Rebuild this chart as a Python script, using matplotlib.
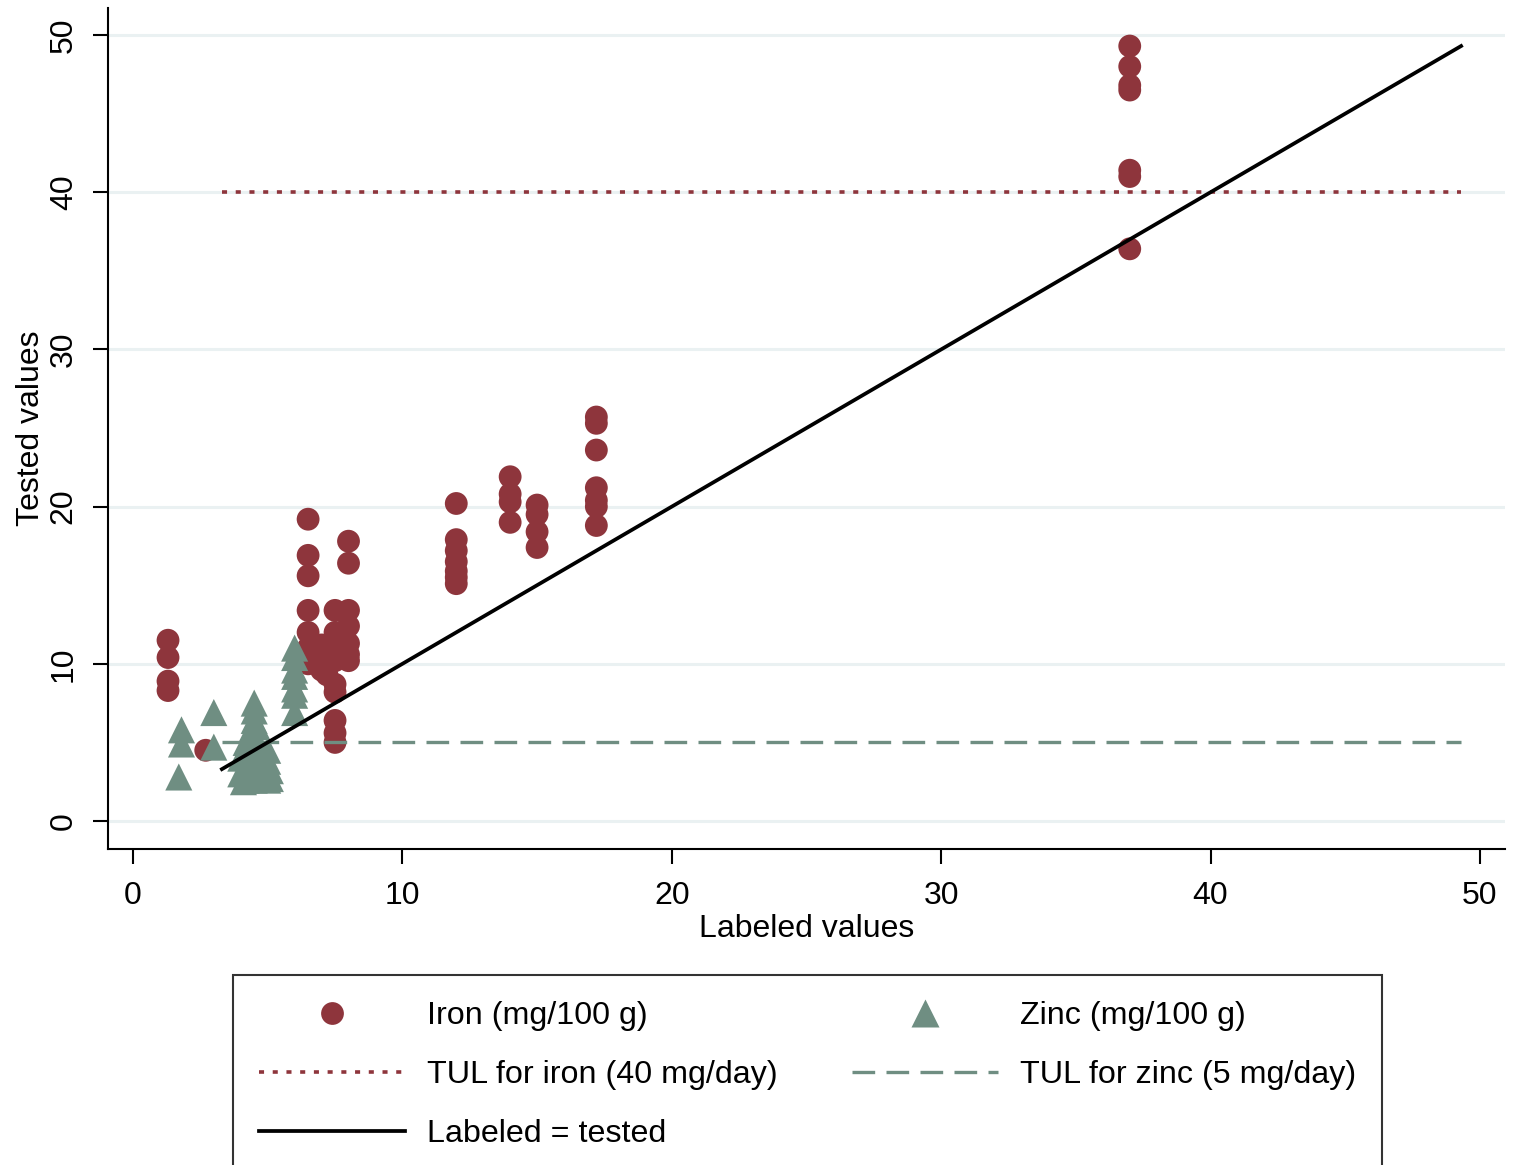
import matplotlib
matplotlib.use("Agg")
import matplotlib.pyplot as plt
from matplotlib.lines import Line2D

plt.rcParams['font.family'] = ['Liberation Sans', 'DejaVu Sans']

# iron: labeled vs tested (mg/100 g)
iron_labeled = [1.3, 1.3, 1.3, 1.3, 2.7,
                6.5, 6.5, 6.5, 6.5, 6.5, 6.5, 6.5,
                7.0, 7.0, 7.0, 7.2, 7.2,
                7.5, 7.5, 7.5, 7.5, 7.5, 7.5, 7.5, 7.5, 7.5,
                8.0, 8.0, 8.0, 8.0, 8.0, 8.0, 8.0,
                12, 12, 12, 12, 12, 12, 12,
                14, 14, 14, 14,
                15, 15, 15, 15,
                17.2, 17.2, 17.2, 17.2, 17.2, 17.2, 17.2,
                37, 37, 37, 37, 37, 37, 37]
iron_tested = [11.5, 10.4, 8.9, 8.3, 4.5,
               19.2, 16.9, 15.6, 13.4, 12.0, 11.0, 10.0,
               11.2, 10.4, 9.6, 9.3, 10.8,
               13.4, 12.0, 11.0, 10.2, 8.7, 8.2, 6.4, 5.6, 5.0,
               17.8, 16.4, 13.4, 12.4, 11.3, 10.6, 10.2,
               20.2, 17.9, 17.2, 16.5, 15.9, 15.5, 15.1,
               21.9, 20.8, 20.3, 19.0,
               20.1, 19.5, 18.4, 17.4,
               25.7, 25.3, 23.6, 21.2, 20.4, 20.0, 18.8,
               49.3, 48.0, 46.8, 46.5, 41.4, 41.0, 36.4]

# zinc: labeled vs tested (mg/100 g)
zinc_labeled = [1.8, 1.8, 1.7, 3.0, 3.0,
                4.0, 4.0, 4.1, 4.2, 4.2, 4.2,
                4.5, 4.5, 4.5, 4.4, 4.5, 4.4, 4.5, 4.5, 4.5, 4.6,
                4.8, 4.8, 5.0, 5.0, 5.1, 5.1, 5.0,
                6.0, 6.0, 6.0, 6.0, 6.0, 6.0, 6.0]
zinc_tested = [5.8, 4.9, 2.8, 6.9, 4.7,
               4.0, 3.0, 2.5, 5.0, 3.5, 2.6,
               7.5, 7.0, 6.4, 5.8, 5.2, 4.5, 3.8, 3.2, 2.6, 6.0,
               4.0, 3.0, 4.5, 3.8, 3.2, 2.7, 2.6,
               11.0, 10.4, 9.6, 9.2, 8.4, 8.0, 6.9]

tul_iron = 40
tul_zinc = 5
line_range = [3.3, 49.3]

iron_col = '#8e353c'
zinc_col = '#6f8e82'

fig = plt.figure(figsize=(15.14, 11.65), dpi=100)
ax = fig.add_axes([108 / 1514, 1 - 849 / 1165, (1505 - 108) / 1514, (849 - 8) / 1165])

ax.scatter(iron_labeled, iron_tested, s=270, marker='o', color=iron_col,
           edgecolors='none', zorder=3)
ax.scatter(zinc_labeled, zinc_tested, s=380, marker='^', color=zinc_col,
           edgecolors='none', zorder=3)
ax.plot(line_range, [tul_iron, tul_iron], color=iron_col, lw=2.6,
        dashes=(1.4, 2.4), zorder=4)
ax.plot(line_range, [tul_zinc, tul_zinc], color=zinc_col, lw=2.4,
        dashes=(6.8, 3.4), zorder=4)
ax.plot(line_range, line_range, color='black', lw=2.7, zorder=5)

ax.set_xlim(-0.928, 50.93)
ax.set_ylim(-1.78, 51.72)
ax.set_xticks(range(0, 51, 10))
ax.set_yticks(range(0, 51, 10))
for lab in ax.get_yticklabels():
    lab.set_rotation(90)
    lab.set_va('center')
ax.tick_params(labelsize=23, length=11, width=1.5, direction='out', pad=12)
ax.tick_params(axis='y', pad=10)
ax.yaxis.grid(True, color='#eaf1f2', lw=2.2)
ax.set_axisbelow(True)
for s in ['top', 'right']:
    ax.spines[s].set_visible(False)
for s in ['left', 'bottom']:
    ax.spines[s].set_linewidth(1.5)

ax.set_xlabel('Labeled values', fontsize=23, labelpad=2)
ax.set_ylabel('Tested values', fontsize=23, labelpad=2)

handles = [
    Line2D([], [], ls='none', marker='o', ms=16.4, color=iron_col, mec='none'),
    Line2D([], [], color=iron_col, lw=2.6, dashes=(1.4, 2.4)),
    Line2D([], [], color='black', lw=2.7),
    Line2D([], [], ls='none', marker='^', ms=19.5, color=zinc_col, mec='none'),
    Line2D([], [], color=zinc_col, lw=2.4, dashes=(6.8, 3.4)),
]
labels = ['Iron (mg/100 g)', 'TUL for iron (40 mg/day)', 'Labeled = tested',
          'Zinc (mg/100 g)', 'TUL for zinc (5 mg/day)']
leg = fig.legend(handles, labels, ncol=2, loc='upper center',
                 bbox_to_anchor=(807.5 / 1514, 1 - 975 / 1165),
                 fontsize=23.2, frameon=True, fancybox=False,
                 handlelength=4.53, handletextpad=0.68, columnspacing=2.33,
                 labelspacing=0.91, borderpad=0.8, borderaxespad=0)
leg.get_frame().set_edgecolor('black')
leg.get_frame().set_linewidth(1.5)

fig.savefig('out.png', dpi=100)
